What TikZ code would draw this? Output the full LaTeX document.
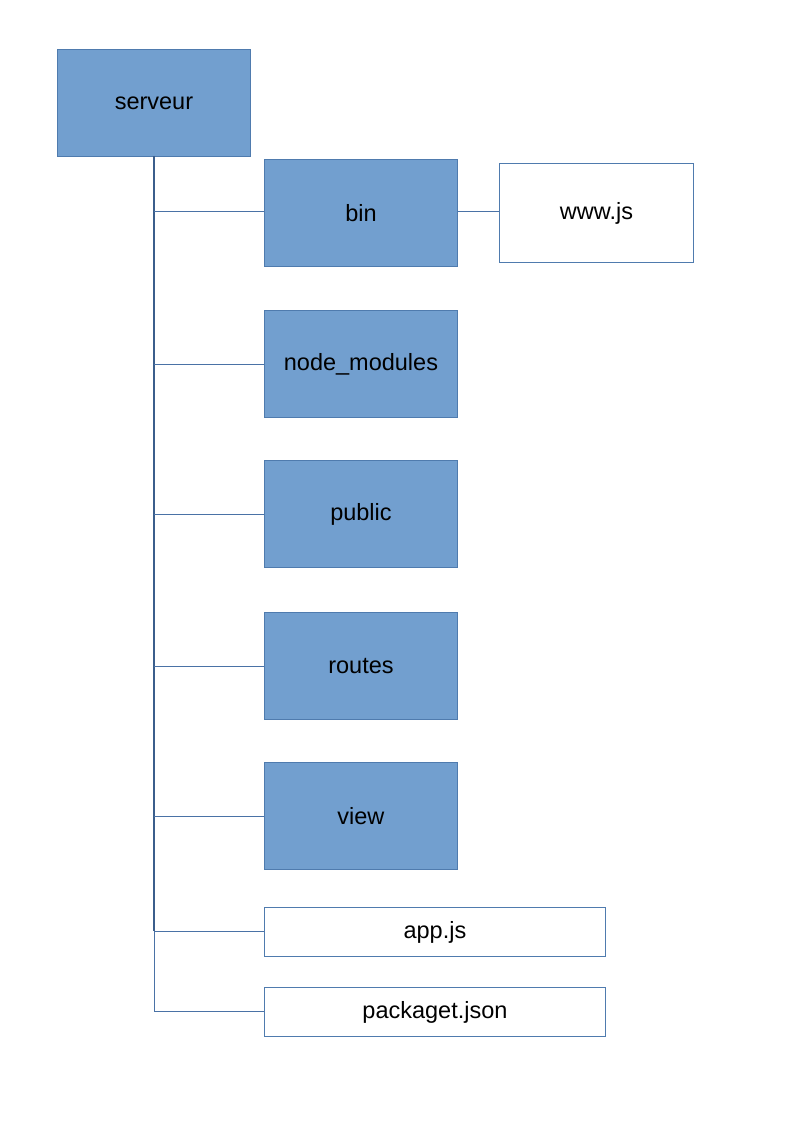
\documentclass[tikz,border=0pt]{standalone}
\usepackage{fontspec}
\setmainfont{Liberation Sans}
\begin{document}
\begin{tikzpicture}[x=1pt,y=-1pt,
  folder/.style={draw=boxline,fill=boxfill,line width=0.9pt,inner sep=0pt,anchor=north west},
  file/.style={draw=boxline,fill=white,line width=0.9pt,inner sep=0pt,anchor=north west},
  conn/.style={draw=connline,line width=1pt},
  lbl/.style={font=\fontsize{23.5}{28}\selectfont}]
\definecolor{boxfill}{HTML}{729FCF}
\definecolor{boxline}{HTML}{4F7BAE}
\definecolor{connline}{HTML}{4A72A6}
\definecolor{trunk}{HTML}{3B5E8C}
\useasboundingbox[fill=white] (0,0) rectangle (794,1123);
\node[folder,minimum width=193pt,minimum height=107pt,lbl] (serveur) at (57,49) {serveur};
\node[folder,minimum width=193pt,minimum height=107pt,lbl] (bin) at (264,159) {bin};
\node[file,minimum width=194pt,minimum height=99pt,lbl] (www) at (499,163) {www.js};
\node[folder,minimum width=193pt,minimum height=107pt,lbl] (nm) at (264,310) {node\_modules};
\node[folder,minimum width=193pt,minimum height=107pt,lbl] (public) at (264,460) {public};
\node[folder,minimum width=193pt,minimum height=107pt,lbl] (routes) at (264,612) {routes};
\node[folder,minimum width=193pt,minimum height=107pt,lbl] (view) at (264,762) {view};
\node[file,minimum width=341pt,minimum height=49pt,lbl] (app) at (264,907) {app.js};
\node[file,minimum width=341pt,minimum height=49pt,lbl] (pkg) at (264,987) {packaget.json};
\coordinate (top) at (154,156);
\coordinate (jb) at (154,212);
\coordinate (jn) at (154,364);
\coordinate (jp) at (154,514);
\coordinate (jr) at (154,666);
\coordinate (jv) at (154,816);
\coordinate (ja) at (154,931);
\coordinate (jk) at (154,1011);
\draw[draw=trunk,line width=1.6pt] (top) -- (ja);
\draw[conn] (ja) -- (jk);
\draw[conn] (jb) -- (jb -| bin.west);
\draw[conn] (jn) -- (jn -| nm.west);
\draw[conn] (jp) -- (jp -| public.west);
\draw[conn] (jr) -- (jr -| routes.west);
\draw[conn] (jv) -- (jv -| view.west);
\draw[conn] (ja) -- (ja -| app.west);
\draw[conn] (jk) -- (jk -| pkg.west);
\draw[conn] (jb -| bin.east) -- (jb -| www.west);
\end{tikzpicture}
\end{document}
